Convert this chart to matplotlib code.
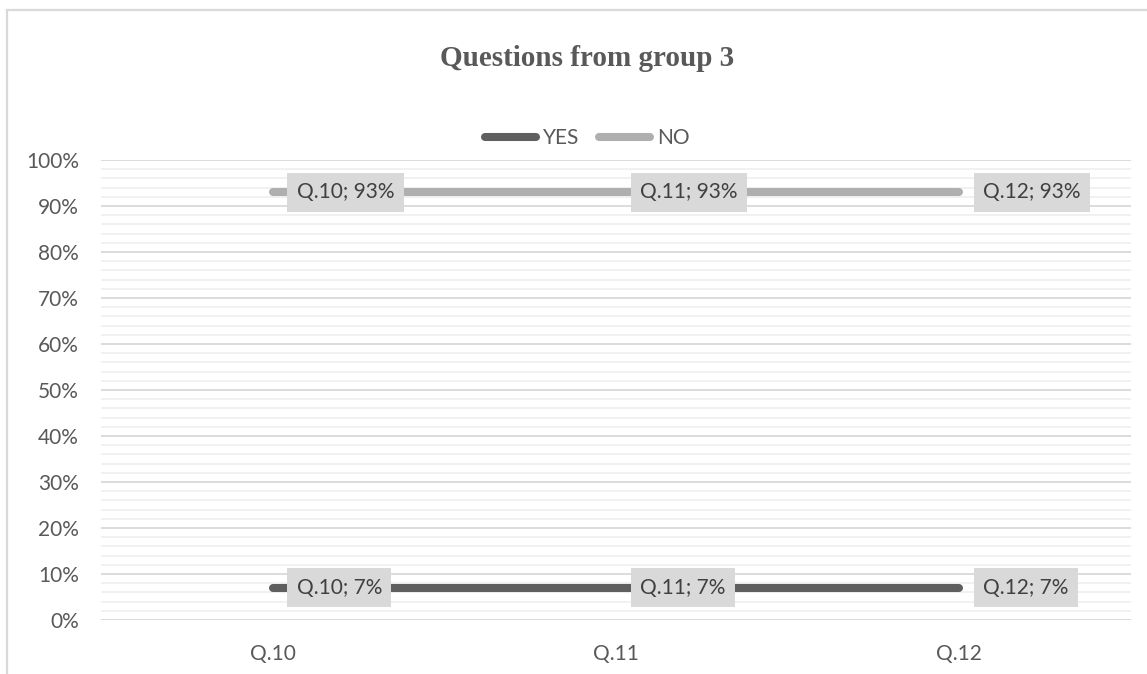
import matplotlib.pyplot as plt
from matplotlib.patches import Rectangle
from matplotlib.ticker import MultipleLocator, FuncFormatter

# Survey answers, share of respondents per question
questions = ['Q.10', 'Q.11', 'Q.12']
yes_share = [0.07, 0.07, 0.07]
no_share = [0.93, 0.93, 0.93]
series_names = ['YES', 'NO']

plt.rcParams['font.family'] = ['Lato', 'DejaVu Sans']
text_col = '#595959'

fig = plt.figure(figsize=(11.47, 6.74), dpi=100)
ax = fig.add_axes([101 / 1147, 54 / 674, 1030 / 1147, 460 / 674])

# thin frame around the chart area
fig.patches.append(Rectangle((7 / 1147, -0.2), 1.5, 1.2 - 10 / 674,
                             transform=fig.transFigure, fill=False,
                             edgecolor='#d9d9d9', linewidth=1.6, zorder=0))

x = list(range(len(questions)))
ax.plot(x, yes_share, color='#5f5f5f', linewidth=5.8, solid_capstyle='round',
        label=series_names[0], zorder=3)
ax.plot(x, no_share, color='#afafaf', linewidth=5.8, solid_capstyle='round',
        label=series_names[1], zorder=3)

# value labels to the right of each point
for series in (yes_share, no_share):
    for i, v in enumerate(series):
        ax.annotate(f'{questions[i]}; {v:.0%}', (x[i], v),
                    xytext=(24, 0), textcoords='offset pixels',
                    ha='left', va='center', fontsize=15, color='#404040',
                    bbox=dict(boxstyle='square,pad=0.45', fc='#d9d9d9', ec='none'),
                    zorder=4)

ax.set_xlim(-0.5, len(questions) - 0.5)
ax.set_ylim(0, 1)
ax.set_xticks(x)
ax.set_xticklabels(questions)
ax.yaxis.set_major_locator(MultipleLocator(0.1))
ax.yaxis.set_minor_locator(MultipleLocator(0.02))
ax.yaxis.set_major_formatter(FuncFormatter(lambda v, p: f'{v:.0%}'))
ax.grid(True, which='major', axis='y', color='#d9d9d9', linewidth=1.3, zorder=1)
ax.grid(True, which='minor', axis='y', color='#f0f0f0', linewidth=1.3, zorder=1)
ax.set_axisbelow(True)
for s in ax.spines.values():
    s.set_visible(False)
ax.tick_params(axis='both', which='both', length=0, labelsize=15, labelcolor=text_col)
ax.tick_params(axis='y', pad=16)
ax.tick_params(axis='x', pad=17)

fig.text(0.512, 0.913, 'Questions from group 3', ha='center', va='center',
         fontsize=21, fontweight='bold', color=text_col, family='Liberation Serif')

fig.legend(loc='center', bbox_to_anchor=(0.512, 0.795), ncol=2, frameon=False,
           fontsize=15, labelcolor=text_col, handlelength=2.45, handletextpad=0.35,
           columnspacing=0.9)

fig.savefig('out.png', dpi=100)
